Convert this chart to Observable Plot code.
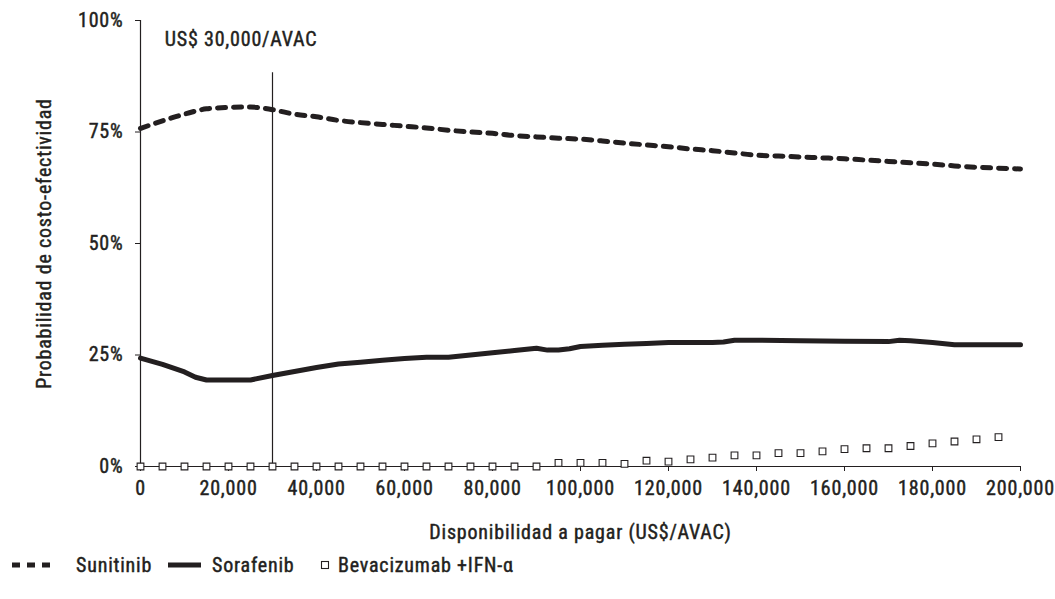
<!DOCTYPE html>
<html>
<head>
<meta charset="utf-8">
<script src="https://cdn.jsdelivr.net/npm/d3@7"></script>
<script src="https://cdn.jsdelivr.net/npm/@observablehq/plot@0.6"></script>
<style>
  html, body { margin: 0; padding: 0; background: #fff; }
  body { width: 1055px; height: 599px; overflow: hidden; position: relative; font-family: "Roboto Condensed", "Liberation Sans Narrow", "DejaVu Sans Condensed", sans-serif; color: #231f20; }
  #legend { position: absolute; left: 0; top: 552px; width: 1055px; height: 26px; font-size: 20px; letter-spacing: 0.8px; -webkit-text-stroke: 0.45px #231f20; }
  #legend .sw, #legend .lb { position: absolute; top: 0; height: 26px; display: flex; align-items: center; }
  #legend svg { display: block; }
  svg text { letter-spacing: 0.8px; stroke: #231f20; stroke-width: 0.45px; }
</style>
</head>
<body>
<div id="chart"></div>
<div id="legend"></div>
<script>
// ---- data ----
const seriesNames = ["Sunitinib", "Sorafenib", "Bevacizumab +IFN-\u03b1"];

const sunitinibX = [0,5000,10000,15000,20000,25000,30000,35000,40000,45000,50000,55000,60000,65000,70000,75000,80000,85000,90000,95000,100000,105000,110000,115000,120000,125000,130000,135000,140000,145000,150000,155000,160000,165000,170000,175000,180000,185000,190000,195000,200000];
const sunitinibY = [0.758,0.775,0.790,0.802,0.805,0.806,0.800,0.790,0.784,0.776,0.771,0.767,0.763,0.759,0.754,0.750,0.747,0.742,0.739,0.736,0.734,0.730,0.725,0.721,0.717,0.712,0.708,0.703,0.698,0.696,0.694,0.692,0.690,0.687,0.684,0.681,0.678,0.674,0.671,0.669,0.667];

const sorafenibX = [0,5000,10000,12500,15000,20000,25000,30000,35000,40000,45000,50000,55000,60000,65000,70000,75000,80000,85000,90000,92500,95000,97500,100000,105000,110000,115000,120000,125000,130000,132500,135000,140000,150000,160000,170000,172500,175000,180000,185000,190000,200000];
const sorafenibY = [0.243,0.229,0.212,0.200,0.194,0.194,0.194,0.204,0.213,0.222,0.230,0.234,0.238,0.242,0.245,0.245,0.250,0.255,0.260,0.265,0.261,0.261,0.264,0.269,0.272,0.274,0.276,0.278,0.278,0.278,0.279,0.283,0.283,0.282,0.281,0.280,0.283,0.282,0.278,0.273,0.273,0.273];

const bevacizumabX = [0,5000,10000,15000,20000,25000,30000,35000,40000,45000,50000,55000,60000,65000,70000,75000,80000,85000,90000,95000,100000,105000,110000,115000,120000,125000,130000,135000,140000,145000,150000,155000,160000,165000,170000,175000,180000,185000,190000,195000];
const bevacizumabY = [0,0,0,0,0,0,0,0,0,0,0,0,0,0,0,0,0,0,0,0.008,0.008,0.008,0.006,0.013,0.011,0.016,0.020,0.025,0.025,0.030,0.030,0.034,0.039,0.041,0.041,0.046,0.052,0.056,0.061,0.066];

const thresholdX = [30000];
const thresholdTop = 0.883;
const thresholdLabel = "US$ 30,000/AVAC";
const thresholdLabelPos = {x: 5500, y: 0.958};

const xTicks = [0,20000,40000,60000,80000,100000,120000,140000,160000,180000,200000];
const yTicks = [0, 0.25, 0.5, 0.75, 1];
const xLabel = "Disponibilidad a pagar (US$/AVAC)";
const yLabel = "Probabilidad de costo-efectividad";

// ---- build ----
const ink = "#231f20";
const font = '"Roboto Condensed", "Liberation Sans Narrow", "DejaVu Sans Condensed", sans-serif';
const sun = sunitinibX.map((x, i) => ({x, y: sunitinibY[i]}));
const sor = sorafenibX.map((x, i) => ({x, y: sorafenibY[i]}));
const bev = bevacizumabX.map((x, i) => ({x, y: bevacizumabY[i]}));

const chart = Plot.plot({
  width: 1055,
  height: 550,
  marginLeft: 140,
  marginRight: 35,
  marginTop: 20,
  marginBottom: 84,
  style: {fontFamily: font, fontSize: "20px", color: ink, background: "#fff"},
  x: {domain: [0, 200000]},
  y: {domain: [0, 1]},
  marks: [
    Plot.axisY({ticks: yTicks, tickFormat: d3.format(".0%"), tickSize: 5, tickPadding: 12,
      label: yLabel, labelArrow: "none", labelAnchor: "center", labelOffset: 104, fontSize: 20}),
    Plot.axisX({ticks: xTicks, tickFormat: d3.format(","), tickSize: 5, tickPadding: 9,
      label: xLabel, labelArrow: "none", labelAnchor: "center", labelOffset: 72, fontSize: 20}),
    Plot.ruleX([0], {y1: 0, y2: 1, stroke: ink, strokeWidth: 1.2}),
    Plot.ruleY([0], {stroke: ink, strokeWidth: 1.2}),
    Plot.ruleX(thresholdX, {y1: 0, y2: thresholdTop, stroke: ink, strokeWidth: 1.2}),
    Plot.text([thresholdLabel], {x: thresholdLabelPos.x, y: thresholdLabelPos.y, text: d => d,
      textAnchor: "start", fontSize: 20, fill: ink}),
    Plot.line(sun, {x: "x", y: "y", stroke: ink, strokeWidth: 5, strokeDasharray: "8,8", curve: "monotone-x"}),
    Plot.line(sor, {x: "x", y: "y", stroke: ink, strokeWidth: 5, curve: "linear"}),
    Plot.dot(bev, {x: "x", y: "y", symbol: "square", r: 3.8, stroke: ink, strokeWidth: 1.1, fill: "#fff"})
  ]
});
document.getElementById("chart").appendChild(chart);

// ---- legend ----
const legend = document.getElementById("legend");
function addItem(swatchSvg, swLeft, label, lbLeft) {
  const sw = document.createElement("div");
  sw.className = "sw"; sw.style.left = swLeft + "px"; sw.innerHTML = swatchSvg;
  const lb = document.createElement("div");
  lb.className = "lb"; lb.style.left = lbLeft + "px"; lb.textContent = label;
  legend.appendChild(sw); legend.appendChild(lb);
}
addItem(`<svg width="40" height="12"><line x1="1" y1="6" x2="40" y2="6" stroke="${ink}" stroke-width="5" stroke-dasharray="8,7"/></svg>`, 11, seriesNames[0], 76);
addItem(`<svg width="33" height="12"><line x1="0" y1="6" x2="33" y2="6" stroke="${ink}" stroke-width="5"/></svg>`, 168, seriesNames[1], 212);
addItem(`<svg width="10" height="12"><rect x="1.5" y="2.5" width="7" height="7" fill="#fff" stroke="${ink}" stroke-width="1.1"/></svg>`, 320, seriesNames[2], 338);
</script>
</body>
</html>
